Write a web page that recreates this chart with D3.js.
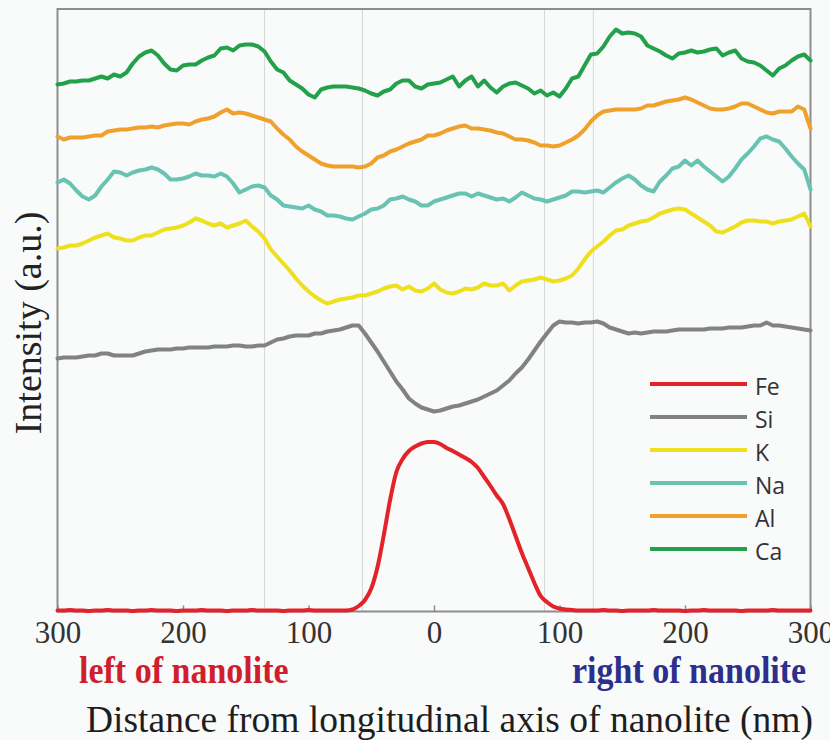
<!DOCTYPE html>
<html>
<head>
<meta charset="utf-8">
<script src="https://cdn.jsdelivr.net/npm/d3@7/dist/d3.min.js"></script>
<style>
  html, body { margin: 0; padding: 0; background: #f9fafa; }
  svg { display: block; }
</style>
</head>
<body>
<svg id="chart" width="830" height="740"></svg>
<script>
// EDS line scan across a nanolite: sampling positions (nm from the long axis)
const distanceNm = [
  -300,-295,-290,-285,-280,-275,-270,-265,-260,-255,
  -250,-245,-240,-235,-230,-225,-220,-215,-210,-205,
  -200,-195,-190,-185,-180,-175,-170,-165,-160,-155,
  -150,-145,-140,-135,-130,-125,-120,-115,-110,-105,
  -100,-95,-90,-85,-80,-75,-70,-65,-60,-55,
  -50,-45,-40,-35,-30,-25,-20,-15,-10,-5,
  0,5,10,15,20,25,30,35,40,45,
  50,55,60,65,70,75,80,85,90,95,
  100,105,110,115,120,125,130,135,140,145,
  150,155,160,165,170,175,180,185,190,195,
  200,205,210,215,220,225,230,235,240,245,
  250,255,260,265,270,275,280,285,290,295,
  300
];

// Intensity profiles (a.u., stacked offsets included)
const fe = [
  1,1,1.5,1,1,0.5,1,1,1.5,1, 1,1,0.5,1,1,1.5,1,1,1,0.5,
  1,1,1,1.5,1,1,1,0.5,1,1, 1,1.5,1,1,1,1,0.5,1,1,1,
  1.5,1,1,1,1,1,
  1,2,5.5,11.5,23,44.5,76.5,111.5,139.5,152.5,
  160.5,165,168,169.5,169.5,167.5,163.5,160.5,157,153.5,
  149.5,143.5,134.5,125.5,116,107.5,92.5,75.5,58.5,43.5,
  28.5,15.5,9.5,5,3,2,
  1.5,1,1,1,1,1.5,1,1,0.5,1, 1,1,1,1.5,1,1,1,1,0.5,1,
  1,1.5,1,1,1,1,1,0.5,1,1, 1,1,1.5,1,1,1,1,1,1
];
const si = [
  253,254,254,254,255,256,256,258,258,256,
  256,256,256,258,260,261,262,262,262,263,
  263,264,264,264,264,265,265,265,266,266,
  265,265,266,266,269,272,273,275,276,276,
  276,278,278,280,281,282,284,286,286,278,
  269,260,250,240,230,222,213,208,204,202,
  200,201,203,205,206,208,210,212,215,218,
  221,226,231,238,244,252,261,270,278,286,
  290,289,289,288,289,289,290,288,284,282,
  280,278,279,278,279,280,280,280,281,282,
  282,282,282,282,283,283,283,284,284,284,
  285,286,286,289,286,286,285,284,283,282,
  281
];
const k = [
  363,364,366,366,368,371,374,376,378,374,
  373,371,371,374,376,376,379,382,383,384,
  386,389,393,391,388,386,388,384,386,388,
  391,385,380,373,362,355,348,341,333,326,
  320,315,311,308,310,312,313,314,316,316,
  318,320,323,325,326,322,325,321,320,323,
  328,322,319,318,320,323,322,324,328,326,
  326,328,321,326,330,331,332,334,332,330,
  331,333,336,343,352,360,365,370,376,381,
  382,386,388,390,391,394,398,400,402,403,
  402,398,394,390,386,380,379,382,385,389,
  391,391,390,390,388,390,391,392,395,398,
  385
];
const na = [
  429,432,428,421,415,412,416,425,432,440,
  439,436,439,441,442,444,442,438,432,432,
  433,435,438,436,436,435,438,435,428,419,
  422,425,426,424,416,412,406,405,404,403,
  406,402,400,396,396,395,393,392,395,398,
  402,403,406,412,413,415,412,410,406,406,
  410,412,414,416,418,418,415,418,416,414,
  412,413,410,414,419,416,413,412,410,412,
  414,416,420,420,419,420,421,419,424,429,
  433,436,432,426,422,420,430,436,443,445,
  451,446,451,445,440,435,430,435,443,452,
  458,465,473,475,472,470,463,455,448,442,
  422
];
const al = [
  475,472,474,474,474,475,476,476,480,481,
  482,482,483,484,484,485,484,486,487,488,
  488,487,490,492,493,495,499,502,498,499,
  498,496,494,492,490,483,477,472,465,460,
  456,452,448,446,445,445,445,445,444,445,
  448,454,456,460,462,465,468,470,472,476,
  476,478,481,483,485,486,483,483,482,481,
  479,478,475,472,472,471,469,466,466,465,
  466,469,472,476,482,490,496,500,501,502,
  502,502,502,503,506,506,508,510,511,512,
  514,512,509,506,503,502,502,503,505,508,
  508,505,502,499,498,500,500,500,505,502,
  483
];
const ca = [
  527,528,530,530,531,531,533,535,533,537,
  535,539,548,555,559,561,556,548,542,541,
  546,547,547,551,554,556,563,564,561,566,
  567,567,565,560,550,542,539,531,527,523,
  517,514,522,524,525,525,525,524,523,521,
  518,516,520,522,528,531,531,525,523,527,
  528,529,532,535,525,531,535,525,531,524,
  519,525,528,529,526,523,518,521,516,519,
  515,523,533,535,546,557,558,565,575,582,
  578,579,578,575,566,563,560,556,553,558,
  559,561,559,560,562,563,556,559,561,553,
  550,549,546,541,536,543,546,551,555,557,
  551
];

const elements = ["Fe", "Si", "K", "Na", "Al", "Ca"];
const profiles = [fe, si, k, na, al, ca];
const colors = ["#e3222a", "#828282", "#efe01f", "#68c3b3", "#f0a12c", "#22a04a"];

const tickValues = [-300, -200, -100, 0, 100, 200, 300];
const tickLabels = ["300", "200", "100", "0", "100", "200", "300"];
// nanolite boundary guides (nm)
const boundaries = [-135, -57, 88, 127];

const serif = "'Liberation Serif', 'Times New Roman', serif";
const svg = d3.select("#chart");
const plot = { left: 57.5, right: 810.5, top: 9, bottom: 611.5 };

const x = d3.scaleLinear().domain([-300, 300]).range([plot.left, plot.right]);
const y = d3.scaleLinear().domain([0, 600]).range([plot.bottom, plot.bottom - 600]);

// boundary guide lines
svg.append("g").selectAll("line").data(boundaries).join("line")
  .attr("x1", d => x(d)).attr("x2", d => x(d))
  .attr("y1", plot.top).attr("y2", plot.bottom)
  .attr("stroke", "#d6d6d6").attr("stroke-width", 1);

// frame
svg.append("rect")
  .attr("x", plot.left).attr("y", plot.top)
  .attr("width", plot.right - plot.left).attr("height", plot.bottom - plot.top)
  .attr("fill", "none").attr("stroke", "#8d8d8d").attr("stroke-width", 2);

// x axis with inward ticks
const xAxis = d3.axisBottom(x)
  .tickValues(tickValues)
  .tickFormat((d, i) => tickLabels[i])
  .tickSizeInner(-6).tickSizeOuter(0).tickPadding(9);
const gx = svg.append("g").attr("transform", `translate(0,${plot.bottom})`).call(xAxis);
gx.select(".domain").remove();
gx.selectAll(".tick line").attr("stroke", "#8d8d8d").attr("stroke-width", 1.5);
gx.selectAll(".tick text")
  .attr("font-family", serif)
  .attr("font-size", 31).attr("fill", "#333");

// profiles, drawn from top trace down so Fe sits on the axis
const line = d3.line()
  .x((d, i) => x(distanceNm[i]))
  .y(d => y(d));
const order = [5, 4, 3, 2, 1, 0];
svg.append("g").selectAll("path").data(order).join("path")
  .attr("d", i => (i === 0 ? line.curve(d3.curveMonotoneX) : line.curve(d3.curveLinear))(profiles[i]))
  .attr("fill", "none")
  .attr("stroke", i => colors[i])
  .attr("stroke-width", 4)
  .attr("stroke-linejoin", "round")
  .attr("stroke-linecap", "round");

// legend
const legend = svg.append("g").attr("transform", "translate(650,384)");
const rows = legend.selectAll("g").data(elements).join("g")
  .attr("transform", (d, i) => `translate(0,${i * 33})`);
rows.append("line")
  .attr("x1", 0).attr("x2", 97).attr("y1", 0).attr("y2", 0)
  .attr("stroke", (d, i) => colors[i]).attr("stroke-width", 4);
rows.append("text")
  .attr("x", 105).attr("y", 10.5)
  .attr("font-family", "'Open Sans', sans-serif")
  .attr("font-size", 23).attr("fill", "#333")
  .text(d => d);

// axis titles
svg.append("text")
  .attr("transform", "translate(40.5,323) rotate(-90)")
  .attr("text-anchor", "middle")
  .attr("font-family", serif)
  .attr("font-size", 38).attr("fill", "#222")
  .text("Intensity (a.u.)");

// side captions, set in a tall bold face
svg.append("text")
  .attr("transform", "translate(79,683) scale(1,1.1)")
  .attr("font-family", serif)
  .attr("font-weight", "bold")
  .attr("font-size", 34).attr("fill", "#cf1f2e")
  .text("left of nanolite");

svg.append("text")
  .attr("transform", "translate(572,683) scale(1,1.1)")
  .attr("font-family", serif)
  .attr("font-weight", "bold")
  .attr("font-size", 34).attr("fill", "#2c2f8c")
  .text("right of nanolite");

svg.append("text")
  .attr("x", 449.5).attr("y", 732)
  .attr("text-anchor", "middle")
  .attr("font-family", serif)
  .attr("font-size", 37.5).attr("fill", "#1e1e1e")
  .text("Distance from longitudinal axis of nanolite (nm)");
</script>
</body>
</html>
